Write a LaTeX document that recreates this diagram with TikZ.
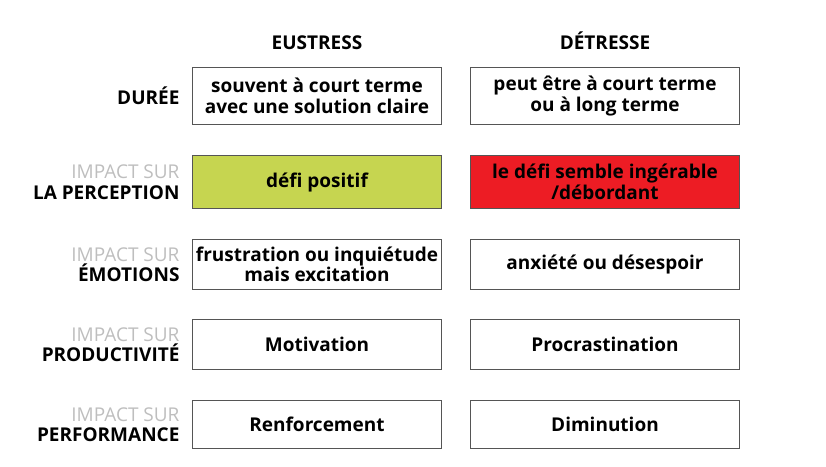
\documentclass[tikz,border=0pt]{standalone}
\usepackage{fontspec}
\setmainfont{Open Sans}
\usetikzlibrary{positioning}

\definecolor{vertdefi}{RGB}{198,213,80}
\definecolor{rougedefi}{RGB}{237,28,36}
\definecolor{grisimpact}{RGB}{190,190,190}
\definecolor{grisbord}{RGB}{85,85,85}

\newcommand{\impact}{\textcolor{grisimpact}{\mdseries IMPACT SUR}}

\begin{document}
\begin{tikzpicture}[
        x=1pt, y=1pt,
        node distance=30pt and 28pt,
        every node/.style={font=\fontsize{19}{20.5}\selectfont\bfseries, align=center},
        cell/.style={draw=grisbord, line width=1pt, inner sep=0pt},
        cellA/.style={cell, minimum width=249pt},
        cellB/.style={cell, minimum width=269pt},
        rowlabel/.style={align=right, anchor=east, xshift=-9pt}
    ]
    \useasboundingbox (0,0) rectangle (826,-466);

    % Eustress column
    \node[cellA, minimum height=57pt, anchor=north west] (cA1) at (192,-67)
        {souvent à court terme\\ avec une solution claire};
    \node[cellA, minimum height=53pt, fill=vertdefi, below=of cA1] (cA2) {défi positif};
    \node[cellA, minimum height=50pt, below=of cA2] (cA3) {frustration ou inquiétude\\ mais excitation};
    \node[cellA, minimum height=50pt, below=29pt of cA3] (cA4) {Motivation};
    \node[cellA, minimum height=48pt, below=of cA4] (cA5) {Renforcement};

    % Detresse column
    \node[cellB, minimum height=57pt, right=of cA1] (cB1) {peut être à court terme\\ ou à long terme};
    \node[cellB, minimum height=53pt, fill=rougedefi, right=of cA2] (cB2) {le défi semble ingérable\\ /débordant};
    \node[cellB, minimum height=50pt, right=of cA3] (cB3) {anxiété ou désespoir};
    \node[cellB, minimum height=50pt, right=of cA4] (cB4) {Procrastination};
    \node[cellB, minimum height=48pt, right=of cA5] (cB5) {Diminution};

    % Headers
    \node[above=14pt of cA1] (hEustress) {EUSTRESS};
    \node[above=14pt of cB1] (hDetresse) {DÉTRESSE};

    % Row labels
    \node[rowlabel] (lDuree) at (cA1.west) {DURÉE};
    \node[rowlabel] (lPerception) at (cA2.west) {\impact\\ LA PERCEPTION};
    \node[rowlabel] (lEmotions) at (cA3.west) {\impact\\ ÉMOTIONS};
    \node[rowlabel] (lProductivite) at (cA4.west) {\impact\\ PRODUCTIVITÉ};
    \node[rowlabel] (lPerformance) at (cA5.west) {\impact\\ PERFORMANCE};

\end{tikzpicture}
\end{document}
